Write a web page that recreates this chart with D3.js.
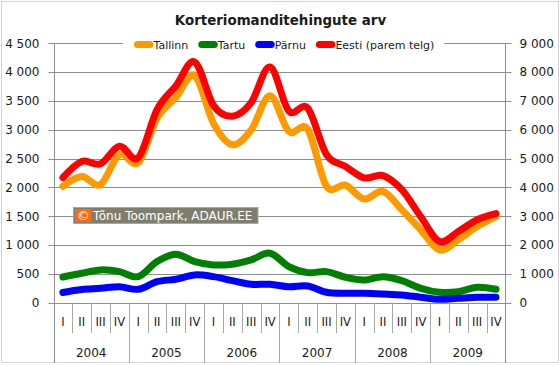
<!DOCTYPE html>
<html>
<head>
<meta charset="utf-8">
<script src="https://cdn.jsdelivr.net/npm/d3@7"></script>
<style>
  body { margin: 0; background: #fff; }
  text { font-family: "DejaVu Sans", sans-serif; fill: #1a1a1a; }
</style>
</head>
<body>
<svg id="chart" width="560" height="366"></svg>
<script>
// quarters and years on the category axis
var years = ["2004", "2005", "2006", "2007", "2008", "2009"];
var quarters = ["I", "II", "III", "IV"];

// series values, one per quarter 2004 I .. 2009 IV
var tallinn = [2020, 2190, 2050, 2570, 2430, 3200, 3560, 3940, 3110, 2740, 3000, 3590,
               2970, 3010, 2020, 2040, 1800, 1930, 1610, 1265, 915, 1090, 1320, 1495];
var tartu   = [445, 511, 569, 539, 452, 713, 841, 713, 656, 668, 743, 859,
               626, 522, 539, 442, 395, 452, 383, 250, 181, 191, 268, 233];
var parnu   = [178, 230, 250, 278, 233, 365, 407, 482, 452, 383, 320, 320,
               278, 290, 181, 163, 163, 151, 134, 94, 59, 76, 94, 94];
var eesti   = [4340, 4900, 4820, 5430, 5030, 6700, 7520, 8350, 6840, 6470, 6940, 8180,
               6650, 6750, 5140, 4730, 4330, 4410, 3920, 2990, 2120, 2470, 2880, 3090];

var leftTicks = [0, 500, 1000, 1500, 2000, 2500, 3000, 3500, 4000, 4500];
var rightTicks = [0, 1000, 2000, 3000, 4000, 5000, 6000, 7000, 8000, 9000];

var seriesNames = ["Tallinn", "Tartu", "Pärnu", "Eesti (parem telg)"];
var seriesColors = ["#ff9900", "#008000", "#0000ff", "#ff0000"];

var svg = d3.select("#chart");
var gridColor = "#8e8e8e";
var fmt = function (v) { return d3.format(",")(v).replace(/,/g, " "); };

var pl = 53.5, pr = 505.4, pt = 43.3, pb = 302.7;

var cats = [];
years.forEach(function (y) {
	quarters.forEach(function (q) { cats.push(y + "-" + q); });
});

var x = d3.scaleBand().domain(cats).range([pl, pr]).padding(0);
var yL = d3.scaleLinear().domain([0, 4500]).range([pb, pt]);
var yR = d3.scaleLinear().domain([0, 9000]).range([pb, pt]);

// outer frame
svg.append("rect")
	.attr("x", 1.5).attr("y", 1.5).attr("width", 557).attr("height", 361)
	.style("fill", "none").style("stroke", "#d4d4d4");

// title
svg.append("text")
	.attr("x", 280.5).attr("y", 24.5)
	.attr("text-anchor", "middle")
	.style("font-size", "13.4px").style("font-weight", "bold")
	.text("Korteriomanditehingute arv");

// horizontal gridlines
svg.append("g").selectAll("line")
	.data(leftTicks)
	.enter().append("line")
	.attr("x1", pl - 5).attr("x2", pr + 6)
	.attr("y1", function (d) { return Math.round(yL(d)) + 0.5; })
	.attr("y2", function (d) { return Math.round(yL(d)) + 0.5; })
	.style("stroke", gridColor);

// left axis labels
svg.append("g").selectAll("text")
	.data(leftTicks)
	.enter().append("text")
	.attr("x", 39.5)
	.attr("y", function (d) { return yL(d) + 4.3; })
	.attr("text-anchor", "end")
	.style("font-size", "12px")
	.text(fmt);

// right axis labels
svg.append("g").selectAll("text")
	.data(rightTicks)
	.enter().append("text")
	.attr("x", 519.5)
	.attr("y", function (d) { return yR(d) + 4.3; })
	.style("font-size", "12px")
	.text(fmt);

// vertical axis lines, running down through the year rows
[pl, pr].forEach(function (xx) {
	svg.append("line")
		.attr("x1", Math.round(xx) + 0.5).attr("x2", Math.round(xx) + 0.5)
		.attr("y1", pt).attr("y2", 363)
		.style("stroke", gridColor);
});

// category ticks
var xa = svg.append("g");
cats.forEach(function (c, i) {
	if (i === 0) return;
	var xx = Math.round(x(c)) + 0.5;
	xa.append("line")
		.attr("x1", xx).attr("x2", xx)
		.attr("y1", pb).attr("y2", i % 4 === 0 ? 363 : 333)
		.style("stroke", "#a8a8a8");
});
xa.selectAll("text.q")
	.data(cats)
	.enter().append("text")
	.attr("class", "q")
	.attr("x", function (d) { return x(d) + x.bandwidth() / 2; })
	.attr("y", 326)
	.attr("text-anchor", "middle")
	.style("font-size", "11.5px")
	.text(function (d) { return d.split("-")[1]; });
xa.selectAll("text.y")
	.data(years)
	.enter().append("text")
	.attr("class", "y")
	.attr("x", function (d) { return x(d + "-I") + x.bandwidth() * 2; })
	.attr("y", 356.5)
	.attr("text-anchor", "middle")
	.style("font-size", "12px")
	.text(function (d) { return d; });

// watermark
var wm = svg.append("g");
wm.append("rect")
	.attr("x", 73.5).attr("y", 207.5).attr("width", 184.5).attr("height", 16)
	.style("fill", "#7f7e6e").style("stroke", "#a9a89c");
wm.append("rect")
	.attr("x", 75).attr("y", 209).attr("width", 16.5).attr("height", 13)
	.style("fill", "#ff6a13");
wm.append("text")
	.attr("x", 83.2).attr("y", 220.2)
	.attr("text-anchor", "middle")
	.style("font-size", "13px").style("fill", "#fff")
	.text("©");
wm.append("text")
	.attr("x", 93).attr("y", 220)
	.style("font-size", "12px").style("fill", "#fff")
	.text("Tõnu Toompark, ADAUR.EE");

// lines
var lineL = d3.line()
	.x(function (d, i) { return x(cats[i]) + x.bandwidth() / 2; })
	.y(function (d) { return yL(d); })
	.curve(d3.curveCardinal.tension(0));
var lineR = d3.line()
	.x(function (d, i) { return x(cats[i]) + x.bandwidth() / 2; })
	.y(function (d) { return yR(d); })
	.curve(d3.curveCardinal.tension(0));

var series = [
	{ data: tallinn, line: lineL },
	{ data: tartu, line: lineL },
	{ data: parnu, line: lineL },
	{ data: eesti, line: lineR }
];
svg.append("g").selectAll("path")
	.data(series)
	.enter().append("path")
	.attr("d", function (d) { return d.line(d.data); })
	.style("fill", "none")
	.style("stroke", function (d, i) { return seriesColors[i]; })
	.style("stroke-width", 7)
	.style("stroke-linejoin", "round")
	.style("stroke-linecap", "round");

// legend
var lg = svg.append("g");
var lgBg = lg.append("rect").attr("y", 35).attr("height", 18).style("fill", "#fff");
var lx = 134;
seriesNames.forEach(function (n, i) {
	lg.append("line")
		.attr("x1", lx + 3.5).attr("x2", lx + 16)
		.attr("y1", 44.5).attr("y2", 44.5)
		.style("stroke", seriesColors[i])
		.style("stroke-width", 7)
		.style("stroke-linecap", "round");
	var t = lg.append("text")
		.attr("x", lx + 19.5).attr("y", 48.5)
		.style("font-size", "11px")
		.text(n);
	lx += 19.5 + t.node().getComputedTextLength() + 10;
});
lgBg.attr("x", 123).attr("width", lx - 123);
</script>
</body>
</html>
